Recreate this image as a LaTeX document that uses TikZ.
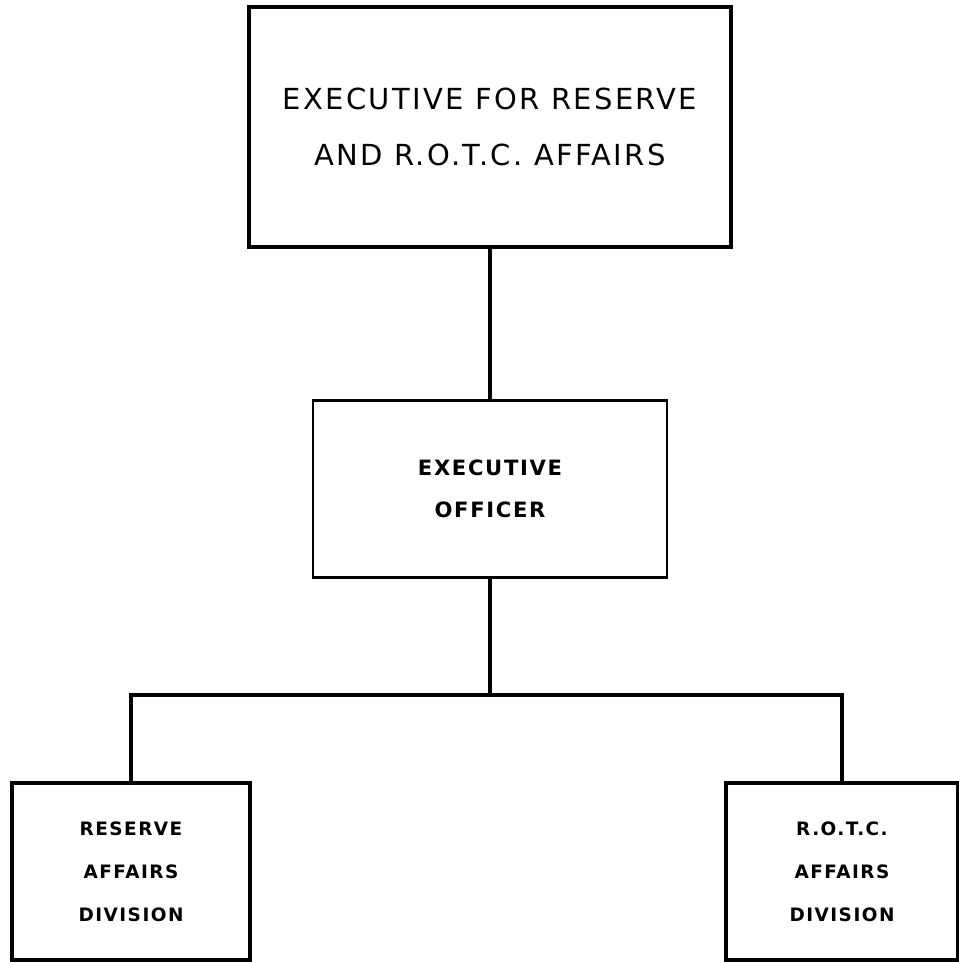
\documentclass[tikz,border=0pt]{standalone}
\usepackage{fontspec}
\setmainfont{DejaVu Sans}
\newfontfamily\letterfont[LetterSpace=8]{DejaVu Sans}
\usepackage{tikz}
\usetikzlibrary{positioning}

\begin{document}
\begin{tikzpicture}[
    headbox/.style={rectangle, draw=black, line width=2.8pt, fill=white,
                    minimum width=9.64cm, minimum height=4.8cm,
                    align=center, inner sep=0pt,
                    font=\letterfont\fontsize{16.5}{31.5}\selectfont},
    officebox/.style={rectangle, draw=black, line width=1.7pt, fill=white,
                      minimum width=7.08cm, minimum height=3.54cm,
                      align=center, inner sep=0pt,
                      font=\letterfont\bfseries\fontsize{12}{23.8}\selectfont},
    divbox/.style={rectangle, draw=black, line width=1.9pt, fill=white,
                   minimum height=3.54cm, align=center, inner sep=0pt,
                   font=\letterfont\bfseries\fontsize{10.5}{24.4}\selectfont},
    link/.style={draw=black, line width=1.8pt},
]
  \useasboundingbox (0,0) rectangle (19.18,-19.24);

  % ---- boxes ----
  \node[headbox] (exec) at (9.8, -2.54)
    {\raisebox{-0.12cm}{EXECUTIVE FOR RESERVE}\\ \raisebox{-0.12cm}{AND R.O.T.C. AFFAIRS}};
  \node[officebox] (exo) at (9.8, -9.77) {EXECUTIVE\\OFFICER};
  \node[divbox, minimum width=4.76cm] (rad) at (2.62, -17.43)
    {RESERVE\\AFFAIRS\\DIVISION};
  \node[divbox, minimum width=4.64cm] (rotc) at (16.84, -17.43)
    {R.O.T.C.\\AFFAIRS\\DIVISION};

  % ---- connectors ----
  \coordinate (bar) at (9.8, -13.9);
  \draw[link] (exec.south) -- (exo.north);
  \draw[link] (exo.south) -- (bar);
  \draw[link] (bar) -| (rad.north);
  \draw[link] (bar) -| (rotc.north);
\end{tikzpicture}
\end{document}
